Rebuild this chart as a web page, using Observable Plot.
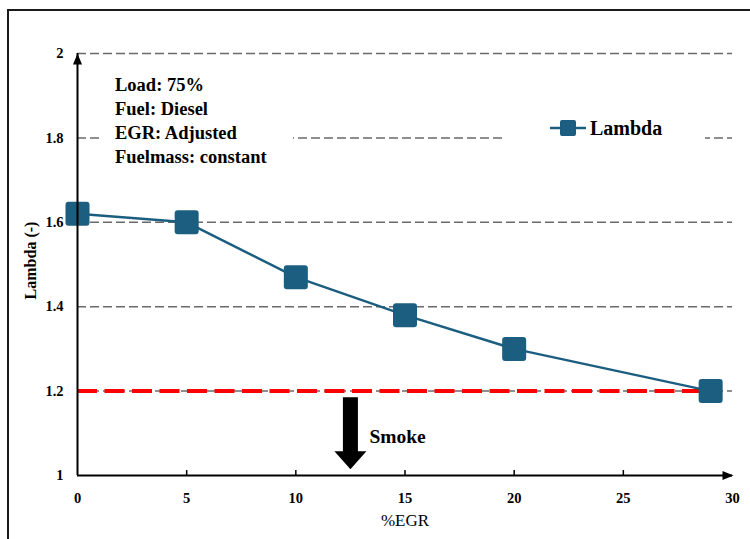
<!DOCTYPE html>
<html><head><meta charset="utf-8">
<script src="https://cdn.jsdelivr.net/npm/d3@7"></script>
<script src="https://cdn.jsdelivr.net/npm/@observablehq/plot@0.6"></script>
<style>
body{margin:0;background:#fff;overflow:hidden;font-family:"Liberation Serif","Times New Roman",serif;}
#wrap{position:relative;width:750px;height:539px;}
#frame{position:absolute;left:7px;top:9px;width:800px;height:600px;border-left:2px solid #1a1a1a;border-top:2px solid #1a1a1a;pointer-events:none;}
#note{position:absolute;left:100px;top:70px;width:193px;height:96px;background:#fff;padding-left:15px;padding-top:3px;box-sizing:border-box;font-weight:bold;font-size:18.5px;line-height:24px;white-space:nowrap;}
#legend{position:absolute;left:505px;top:112px;width:200px;height:32px;background:#fff;}
#legend svg{position:absolute;left:45px;top:7px;}
#legend span{position:absolute;left:85px;top:6px;font-weight:bold;font-size:20px;line-height:20px;}
</style></head>
<body>
<div id="wrap"></div>
<script>
// ---- data ----
const egr = [0, 5, 10, 15, 20, 29];
const lambda = [1.62, 1.60, 1.47, 1.38, 1.30, 1.20];
const xTicks = [0, 5, 10, 15, 20, 25, 30];
const yTicks = [1, 1.2, 1.4, 1.6, 1.8, 2];
const gridTicks = [1.2, 1.4, 1.6, 1.8, 2];
const smokeLimit = 1.2;
const noteLines = ["Load: 75%", "Fuel: Diesel", "EGR: Adjusted", "Fuelmass: constant"];
const seriesName = "Lambda";
const smokeArrow = [{egr: 12.5, lambda: 1.1, label: "Smoke"}];
const xLabel = "%EGR";
const yLabel = "Lambda (-)";

const color = "#1b5e80";
const data = egr.map((e, i) => ({egr: e, lambda: lambda[i]}));

const roundSquare = {draw(ctx, size) {
  const s = Math.sqrt(size) / 2, r = 3;
  ctx.moveTo(-s + r, -s); ctx.lineTo(s - r, -s); ctx.arcTo(s, -s, s, -s + r, r);
  ctx.lineTo(s, s - r); ctx.arcTo(s, s, s - r, s, r);
  ctx.lineTo(-s + r, s); ctx.arcTo(-s, s, -s, s - r, r);
  ctx.lineTo(-s, -s + r); ctx.arcTo(-s, -s, -s + r, -s, r); ctx.closePath();
}};
const triUp = {draw(ctx) { ctx.moveTo(0, 0); ctx.lineTo(4.5, 11); ctx.lineTo(-4.5, 11); ctx.closePath(); }};
const triRight = {draw(ctx) { ctx.moveTo(1, 0); ctx.lineTo(-10, -4.5); ctx.lineTo(-10, 4.5); ctx.closePath(); }};
const blockArrow = {draw(ctx) {
  ctx.moveTo(-7.5, -36); ctx.lineTo(7.5, -36); ctx.lineTo(7.5, 18); ctx.lineTo(16, 18);
  ctx.lineTo(0, 36); ctx.lineTo(-16, 18); ctx.lineTo(-7.5, 18); ctx.closePath();
}};

const xMin = 0, xMax = 30, yMin = 1, yMax = 2;

const plot = Plot.plot({
  width: 750, height: 539,
  marginLeft: 77, marginRight: 18, marginTop: 53, marginBottom: 64,
  x: {domain: [xMin, xMax]},
  y: {domain: [yMin, yMax]},
  style: {fontFamily: "'Liberation Serif', 'Times New Roman', serif", color: "black", background: "white"},
  marks: [
    Plot.ruleY(gridTicks, {stroke: "#6a6a6a", strokeWidth: 1.5, strokeDasharray: "9,4"}),
    Plot.ruleY([smokeLimit], {x1: xMin, x2: d3.max(egr), stroke: "#ff0000", strokeWidth: 4, strokeDasharray: "20,7.5"}),
    Plot.line(data, {x: "egr", y: "lambda", stroke: color, strokeWidth: 2.5}),
    Plot.dot(data, {x: "egr", y: "lambda", symbol: roundSquare, r: 24 / Math.sqrt(Math.PI), fill: color, stroke: "none"}),
    Plot.ruleX([xMin], {stroke: "black", strokeWidth: 2}),
    Plot.ruleY([yMin], {stroke: "black", strokeWidth: 2}),
    Plot.ruleX(xTicks.slice(1, -1), {y1: yMin, y2: yMin, insetTop: -5, stroke: "black", strokeWidth: 1.5}),
    Plot.dot([{x: xMin, y: yMax}], {x: "x", y: "y", symbol: triUp, fill: "black", stroke: "none"}),
    Plot.dot([{x: xMax, y: yMin}], {x: "x", y: "y", symbol: triRight, fill: "black", stroke: "none"}),
    Plot.axisY({ticks: yTicks, tickFormat: d => String(d), tickSize: 0, tickPadding: 14, fontSize: 14.5, fontWeight: "bold", label: null}),
    Plot.axisX({ticks: xTicks, tickFormat: d => String(d), tickSize: 0, tickPadding: 17, fontSize: 14.5, fontWeight: "bold", label: null}),
    Plot.text([xLabel], {frameAnchor: "bottom", dy: 45, text: d => d, fontSize: 17, lineAnchor: "middle"}),
    Plot.text([yLabel], {frameAnchor: "left", dx: -47, dy: -4, rotate: -90, text: d => d, fontSize: 16, fontWeight: "bold", textAnchor: "middle", lineAnchor: "middle"}),
    Plot.dot(smokeArrow, {x: "egr", y: "lambda", symbol: blockArrow, fill: "black", stroke: "none"}),
    Plot.text(smokeArrow, {x: "egr", y: "lambda", text: "label", dx: 19, dy: 3, textAnchor: "start", lineAnchor: "middle", fontSize: 19.5, fontWeight: "bold"})
  ]
});

const wrap = document.getElementById("wrap");
wrap.appendChild(plot);

const note = document.createElement("div");
note.id = "note";
note.innerHTML = noteLines.map(t => `<div>${t}</div>`).join("");
wrap.appendChild(note);

const legend = document.createElement("div");
legend.id = "legend";
legend.innerHTML = `<svg width="36" height="18"><line x1="0" y1="9" x2="36" y2="9" stroke="${color}" stroke-width="2.5"/><rect x="10" y="1" width="16" height="16" rx="2" fill="${color}"/></svg><span>${seriesName}</span>`;
wrap.appendChild(legend);

const frame = document.createElement("div");
frame.id = "frame";
wrap.appendChild(frame);
</script>
</body></html>
